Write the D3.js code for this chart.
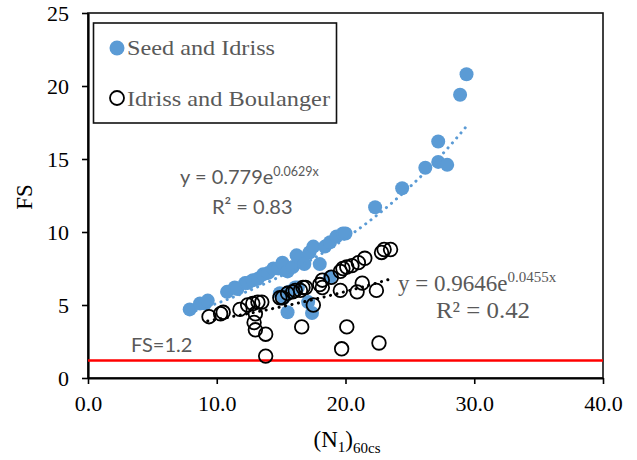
<!DOCTYPE html>
<html><head><meta charset="utf-8">
<script src="https://cdn.jsdelivr.net/npm/d3@7"></script>
<style>body{margin:0;background:#fff}</style>
</head><body>
<svg id="c" width="637" height="460"></svg>
<script>
// Seed and Idriss (filled blue)
const seedX = [7.9,8.7,9.1,9.3,10.8,11.4,11.6,12.2,12.4,12.8,13.2,13.6,14.0,14.4,14.8,15.1,15.5,15.9,16.2,16.3,16.8,17.2,17.5,18.0,18.4,18.8,19.3,19.8,20.0,18.8,17.1,15.5,17.4,14.9,15.6,16.1,16.3,22.3,24.4,26.2,27.2,27.9,27.2,28.9,29.4,15.2];
const seedY = [4.7,5.1,5.1,5.3,5.9,6.2,6.1,6.5,6.5,6.7,6.8,7.1,7.2,7.5,7.5,7.9,7.3,7.6,8.4,8.3,7.8,8.6,9.0,7.8,9.0,9.3,9.7,9.9,9.9,6.9,5.2,4.5,4.45,5.8,5.9,6.2,6.2,11.7,13.0,14.4,14.8,14.6,16.2,19.4,20.8,5.5];
// Idriss and Boulanger (open circles)
const ibX = [9.4,10.3,10.5,11.8,12.4,12.8,13.2,13.5,13.0,12.9,13.0,13.8,13.8,14.9,15.1,15.5,15.9,16.1,16.5,16.7,16.9,16.6,17.5,18.0,18.2,18.2,18.9,19.6,19.6,19.8,20.1,20.5,21.0,20.9,21.3,21.5,22.4,22.8,23.0,23.5,20.1,19.7,22.6];
const ibY = [4.2,4.4,4.5,4.7,5.0,5.1,5.2,5.2,4.4,3.8,3.3,3.0,1.5,5.5,5.5,5.8,5.9,6.0,6.0,6.2,6.2,3.5,5.0,6.4,6.7,6.2,6.9,6.0,7.3,7.5,7.6,7.7,7.9,5.9,6.5,8.2,6.0,8.6,8.8,8.8,3.5,2.0,2.4];
// trend lines y = a*exp(b*x), as drawn on the picture
const seedTrend = {a: 2.73, b: 0.0627, x0: 7.9, x1: 29.4};
const ibTrend = {a: 2.72, b: 0.0389, x0: 9.3, x1: 23.6};
const xTicks = [0,10,20,30,40];
const yTicks = [0,5,10,15,20,25];
const fsLimit = 1.2;

const svg = d3.select("#c");
const L=88,R=603,T=13,B=378;
const x = d3.scaleLinear().domain([0,40]).range([L,R]);
const y = d3.scaleLinear().domain([0,25]).range([B,T]);
const serif = "'Liberation Serif','Times New Roman',serif";
const sans = "Lato,'Open Sans',sans-serif";

// plot border
svg.append("rect").attr("x",L).attr("y",T).attr("width",R-L).attr("height",B-T)
  .attr("fill","none").attr("stroke","#111").attr("stroke-width",1.6);

// axes
const xa = svg.append("g").attr("transform",`translate(0,${B})`)
  .call(d3.axisBottom(x).tickValues(xTicks).tickSize(6).tickSizeOuter(0).tickFormat(d3.format(".1f")));
const ya = svg.append("g").attr("transform",`translate(${L},0)`)
  .call(d3.axisLeft(y).tickValues(yTicks).tickSize(6).tickSizeOuter(0));
[xa,ya].forEach(g=>{
  g.attr("font-family",null).attr("font-size",null);
  g.select(".domain").attr("stroke","#000").attr("stroke-width",2.2);
  g.selectAll(".tick line").attr("stroke","#000").attr("stroke-width",1.6);
  g.selectAll("text").style("font-family",serif).style("font-size","22px").attr("fill","#000");
});
xa.selectAll("text").attr("dy","1.1em");
ya.selectAll("text").attr("dx","-0.45em");

// red FS line
svg.append("line").attr("x1",x(0)).attr("x2",x(40)).attr("y1",y(fsLimit)).attr("y2",y(fsLimit))
  .attr("stroke","#ff0000").attr("stroke-width",2.5);

function trend(t, color, dash){
  const pts = d3.range(0,101).map(i=>{const xv=t.x0+(t.x1-t.x0)*i/100; return [xv, t.a*Math.exp(t.b*xv)];});
  svg.append("path").attr("d",d3.line().x(d=>x(d[0])).y(d=>y(d[1]))(pts))
    .attr("fill","none").attr("stroke",color).attr("stroke-width",3)
    .attr("stroke-linecap","round").attr("stroke-dasharray",dash);
}

// blue points
svg.append("g").selectAll("circle").data(seedX.map((v,i)=>[v,seedY[i]])).join("circle")
  .attr("cx",d=>x(d[0])).attr("cy",d=>y(d[1])).attr("r",7).attr("fill","#5b9bd5");
trend(seedTrend,"#5b9bd5","0.1 6.5");
// open circles
svg.append("g").selectAll("circle").data(ibX.map((v,i)=>[v,ibY[i]])).join("circle")
  .attr("cx",d=>x(d[0])).attr("cy",d=>y(d[1])).attr("r",6.8).attr("fill","none")
  .attr("stroke","#000").attr("stroke-width",1.8);
trend(ibTrend,"#000","0.1 6.5");

// legend
svg.append("rect").attr("x",93.5).attr("y",23).attr("width",243).attr("height",100)
  .attr("fill","#fff").attr("stroke","#111").attr("stroke-width",1.6);
svg.append("circle").attr("cx",117).attr("cy",48).attr("r",7.5).attr("fill","#5b9bd5");
svg.append("circle").attr("cx",117).attr("cy",98).attr("r",7).attr("fill","none").attr("stroke","#000").attr("stroke-width",1.8);
svg.append("text").attr("x",127).attr("y",55).text("Seed and Idriss")
  .style("font-family",serif).style("font-size","22px").attr("fill","#595959")
  .attr("textLength",148).attr("lengthAdjust","spacingAndGlyphs");
svg.append("text").attr("x",127).attr("y",106).text("Idriss and Boulanger")
  .style("font-family",serif).style("font-size","22px").attr("fill","#595959")
  .attr("textLength",203).attr("lengthAdjust","spacingAndGlyphs");

// equations
const grey="#595959";
const e1 = svg.append("text").attr("x",180).attr("y",184).style("font-family",sans).style("font-size","20px").attr("fill",grey);
e1.append("tspan").text("y = 0.779e");
e1.append("tspan").text("0.0629x").style("font-size","12.5px").attr("dy",-8);
svg.append("text").attr("x",212).attr("y",214).style("font-family",sans).style("font-size","20px").attr("fill",grey).text("R² = 0.83");
const e2 = svg.append("text").attr("x",398).attr("y",291).style("font-family",serif).style("font-size","23px").attr("fill",grey);
e2.append("tspan").text("y = 0.9646e");
e2.append("tspan").text("0.0455x").style("font-size","15px").attr("dy",-9);
svg.append("text").attr("x",436).attr("y",318).style("font-family",serif).style("font-size","23px").attr("fill",grey)
  .attr("textLength",94).attr("lengthAdjust","spacingAndGlyphs").text("R² = 0.42");
svg.append("text").attr("x",131).attr("y",352).style("font-family",sans).style("font-size","20px").attr("fill",grey).text("FS=1.2");

// axis titles
const xt = svg.append("text").attr("x",347).attr("y",447).attr("text-anchor","middle")
  .style("font-family",serif).style("font-size","23px").attr("fill","#000");
xt.append("tspan").text("(N");
xt.append("tspan").text("1").style("font-size","15px").attr("dy",5);
xt.append("tspan").text(")").attr("dy",-5);
xt.append("tspan").text("60cs").style("font-size","15px").attr("dy",6);
svg.append("text").attr("transform","translate(32,197) rotate(-90)").attr("text-anchor","middle")
  .style("font-family",serif).style("font-size","23px").attr("fill","#000").text("FS");
</script>
</body></html>
